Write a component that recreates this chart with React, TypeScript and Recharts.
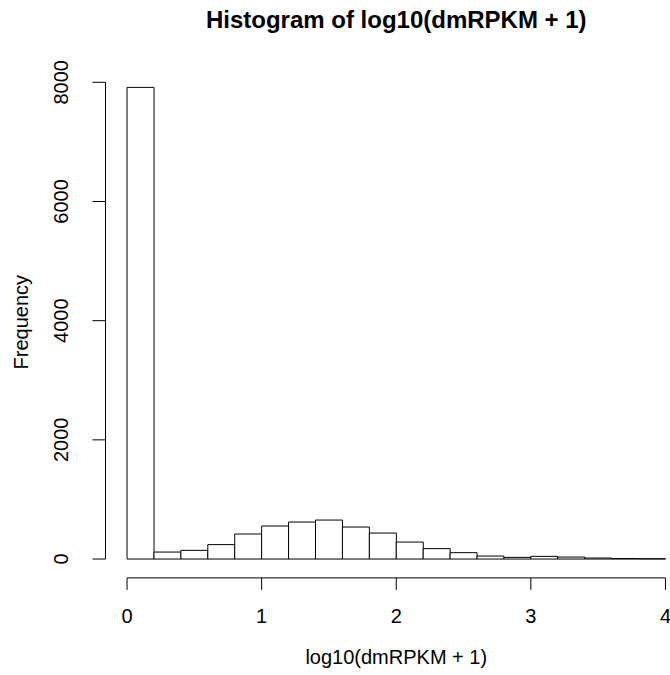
import React from 'react';
import { BarChart, Bar, XAxis, YAxis, ReferenceLine } from 'recharts';

// histogram bins of width 0.2, given by their midpoints
const binMids = [0.1, 0.3, 0.5, 0.7, 0.9, 1.1, 1.3, 1.5, 1.7, 1.9, 2.1, 2.3, 2.5, 2.7, 2.9, 3.1, 3.3, 3.5, 3.7, 3.9];
const frequencies = [7915, 117, 146, 242, 420, 554, 621, 654, 537, 436, 285, 175, 107, 50, 28, 45, 33, 17, 8, 5];
const xTicks = [0, 1, 2, 3, 4];
const yTicks = [0, 2000, 4000, 6000, 8000];

const data = binMids.map((mid, i) => ({ mid, count: frequencies[i] }));

// R pads each axis range by 4%
const xDomain: [number, number] = [-0.16, 4.16];
const yDomain: [number, number] = [-316.6, 8231.6];

const FONT = '"Liberation Sans", Arial, Helvetica, sans-serif';

const YTick = (props: any) => {
  const { x, y, payload } = props;
  return (
    <text
      x={x}
      y={y}
      transform={`rotate(-90, ${x}, ${y})`}
      textAnchor="middle"
      fontSize={20}
      fontFamily={FONT}
      fill="#000"
    >
      {payload.value}
    </text>
  );
};

const App: React.FC = () => {
  return (
    <div style={{ position: 'absolute', left: 0, top: 0, width: 670, height: 675, overflow: 'hidden', background: '#fff' }}>
      <div
        style={{
          position: 'absolute',
          left: 0,
          top: 7.7,
          width: 792.5,
          textAlign: 'center',
          fontFamily: FONT,
          fontWeight: 'bold',
          fontSize: 24,
          lineHeight: '24px',
          color: '#000',
          whiteSpace: 'nowrap',
        }}
      >
        Histogram of log10(dmRPKM + 1)
      </div>
      <BarChart width={687} height={675} data={data} barCategoryGap={0} margin={{ top: 68.5, right: 0, bottom: 0, left: 0 }}>
        <XAxis
          dataKey="mid"
          type="number"
          domain={xDomain}
          ticks={xTicks}
          allowDataOverflow
          height={97.1}
          axisLine={false}
          tickLine={{ stroke: '#000', strokeWidth: 1 }}
          tickSize={12}
          tickMargin={19}
          tick={{ fill: '#000', fontSize: 20, fontFamily: FONT }}
          label={{
            content: (p: any) => {
              const vb = p.viewBox;
              return (
                <text
                  x={vb.x + vb.width / 2}
                  y={vb.y + vb.height - 11}
                  textAnchor="middle"
                  fontSize={20}
                  fontFamily={FONT}
                  fill="#000"
                >
                  log10(dmRPKM + 1)
                </text>
              );
            },
          }}
        />
        <YAxis
          type="number"
          domain={yDomain}
          ticks={yTicks}
          allowDataOverflow
          width={105.5}
          axisLine={false}
          tickLine={{ stroke: '#000', strokeWidth: 1 }}
          tickSize={13}
          tickMargin={24.5}
          tick={<YTick />}
          label={{
            content: (p: any) => {
              const vb = p.viewBox;
              const cx = vb.x + 28;
              const cy = vb.y + vb.height / 2 - 1;
              return (
                <text
                  x={cx}
                  y={cy}
                  transform={`rotate(-90, ${cx}, ${cy})`}
                  textAnchor="middle"
                  fontSize={20}
                  fontFamily={FONT}
                  fill="#000"
                >
                  Frequency
                </text>
              );
            },
          }}
        />
        <Bar dataKey="count" fill="#fff" stroke="#000" strokeWidth={1} isAnimationActive={false} />
        <ReferenceLine
          segment={[{ x: xTicks[0], y: yDomain[0] }, { x: xTicks[xTicks.length - 1], y: yDomain[0] }]}
          stroke="#000"
          strokeWidth={1}
          ifOverflow="visible"
        />
        <ReferenceLine
          segment={[{ x: xDomain[0], y: yTicks[0] }, { x: xDomain[0], y: yTicks[yTicks.length - 1] }]}
          stroke="#000"
          strokeWidth={1}
          ifOverflow="visible"
        />
      </BarChart>
    </div>
  );
};

export default App;
